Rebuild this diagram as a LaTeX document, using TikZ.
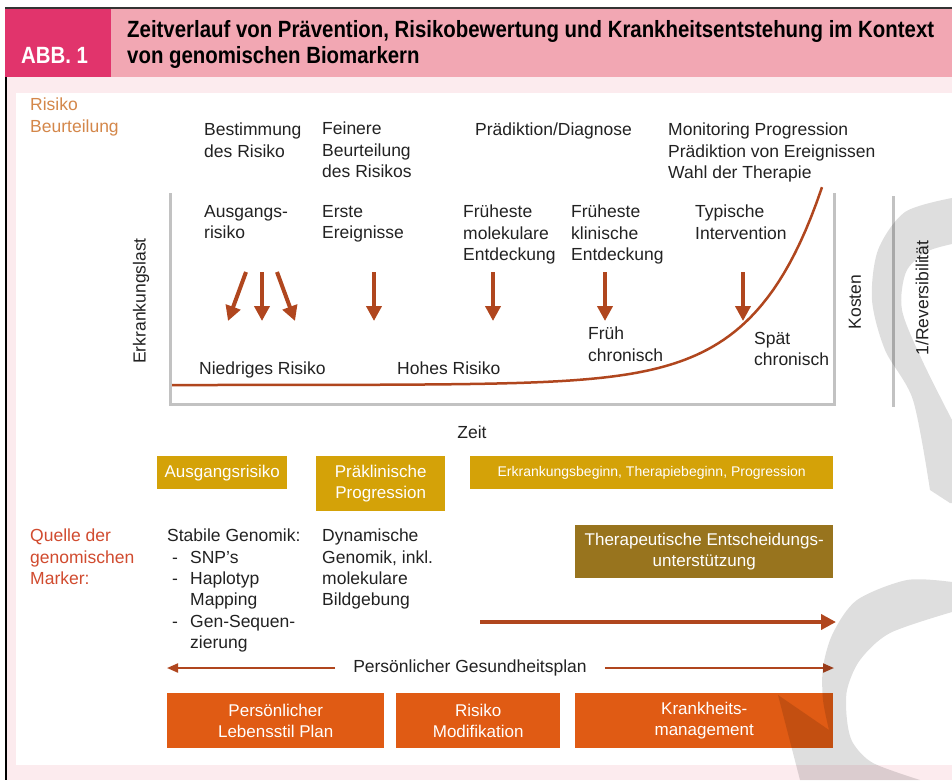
\documentclass[tikz,border=0pt]{standalone}
\usepackage{fontspec}
\setmainfont{Liberation Sans}
\newfontfamily\titelfont[FakeStretch=0.868]{Liberation Sans}
\usetikzlibrary{arrows.meta}

\definecolor{kopfrosa}{HTML}{F2A7B3}
\definecolor{abbrosa}{HTML}{E1346C}
\definecolor{grundrosa}{HTML}{FCEBEE}
\definecolor{braun}{HTML}{B0461E}
\definecolor{ocker}{HTML}{D4A208}
\definecolor{dunkelocker}{HTML}{98741E}
\definecolor{planorange}{HTML}{E05B14}
\definecolor{hellbraun}{HTML}{D4874A}
\definecolor{quellrot}{HTML}{D14B2F}
\definecolor{achse}{HTML}{C2C2C2}
\definecolor{schrift}{HTML}{222222}

\begin{document}
\begin{tikzpicture}[x=1pt, y=-1pt,
  txt/.style={anchor=north west, inner sep=0pt, align=left, text=schrift, font=\fontsize{17.5}{21.3}\selectfont},
  senkrecht/.style={rotate=90, inner sep=0pt, text=schrift, font=\fontsize{17.5}{21}\selectfont},
  kasten/.style={anchor=north west, inner sep=0pt, align=center, text=white, font=\fontsize{17}{21}\selectfont},
  pfeil/.style={draw=braun, line width=4pt, -{Triangle[width=15pt,length=15pt]}},
  duenn/.style={draw=braun, line width=2pt, -{Triangle[width=9pt,length=11pt]}},
  wasser/.style={fill=black, opacity=0.13}]

\useasboundingbox (0,0) rectangle (952,780);

%Hintergrund und Kopfzeile
\fill[white] (0,0) rectangle (952,780);
\fill[grundrosa] (5,77) rectangle (952,780);
\fill[white] (16,93) rectangle (952,765);
\fill[kopfrosa] (5,9) rectangle (952,77);
\fill[abbrosa] (5,9) rectangle (111,77);
\draw[black!80, line width=2pt] (5,8) -- (952,8);
\draw[black, line width=1.5pt] (5.75,77) -- (5.75,780);
\node[anchor=base west, inner sep=0pt, text=white, font=\titelfont\bfseries\fontsize{23.5}{26}\selectfont] (abb) at (21,63) {ABB. 1};
\node[anchor=north west, inner sep=0pt, align=left, text=black, font=\titelfont\bfseries\fontsize{23.5}{26}\selectfont] (titel) at (127,20)
  {Zeitverlauf von Prävention, Risikobewertung und Krankheitsentstehung im Kontext\\von genomischen Biomarkern};

%Diagramm
\draw[achse, line width=3pt] (170,193) -- (170,404) -- (834,404) -- (834,193);
\draw[achse, line width=3pt] (893,196) -- (893,407);
\draw[braun, line width=2.5pt] plot[domain=172:822, samples=120] (\x, {385-192*exp(0.015*(\x-820))});

\node[txt, text=hellbraun] (risiko) at (30,98) {Risiko\\Beurteilung};
\node[txt] (bestimmung) at (204,123) {Bestimmung\\des Risiko};
\node[txt] (feinere) at (322,122) {Feinere\\Beurteilung\\des Risikos};
\node[txt] (praediktion) at (475,123) {Prädiktion/Diagnose};
\node[txt] (monitoring) at (668,123) {Monitoring Progression\\Prädiktion von Ereignissen\\Wahl der Therapie};

\node[txt] (ausgang) at (204,205) {Ausgangs-\\risiko};
\node[txt] (erste) at (322,205) {Erste\\Ereignisse};
\node[txt] (molekular) at (463,205) {Früheste\\molekulare\\Entdeckung};
\node[txt] (klinisch) at (571,205) {Früheste\\klinische\\Entdeckung};
\node[txt] (typisch) at (695,205) {Typische\\Intervention};

\foreach \xa/\xb [count=\i] in {246/228, 262/262, 277/295, 374/374, 493/493, 605/605, 743/743} {
  \coordinate (von\i) at (\xa,272);
  \coordinate (nach\i) at (\xb,321);
  \draw[pfeil] (von\i) -- (nach\i);
}

\node[txt] (niedrig) at (199,362) {Niedriges Risiko};
\node[txt] (hoch) at (397,362) {Hohes Risiko};
\node[txt] (frueh) at (588,327) {Früh\\chronisch};
\node[txt] (spaet) at (754,332) {Spät\\chronisch};

\node[senkrecht] (last) at (141,301) {Erkrankungslast};
\node[senkrecht] (kosten) at (855,302) {Kosten};
\node[senkrecht] (revers) at (922,298) {1/Reversibilität};
\node[inner sep=0pt, text=schrift, font=\fontsize{17.5}{21}\selectfont] (zeit) at (472,432) {Zeit};

%Phasen
\node[kasten, fill=ocker, minimum width=130pt, minimum height=33pt] (k_ausgang) at (157,456) {Ausgangsrisiko};
\node[kasten, fill=ocker, minimum width=129pt, minimum height=55pt] (k_praeklin) at (316,456) {Präklinische\\Progression};
\node[kasten, fill=ocker, minimum width=363pt, minimum height=33pt, font=\fontsize{14}{17}\selectfont] (k_beginn) at (470,456) {Erkrankungsbeginn, Therapiebeginn, Progression};

%Marker
\node[txt, text=quellrot] (quelle) at (30,529) {Quelle der\\genomischen\\Marker:};
\node[txt] (stabil) at (167,529) {Stabile Genomik:\\
  \makebox[23pt][l]{\hspace{5pt}-}SNP's\\
  \makebox[23pt][l]{\hspace{5pt}-}Haplotyp\\
  \makebox[23pt][l]{}Mapping\\
  \makebox[23pt][l]{\hspace{5pt}-}Gen-Sequen-\\
  \makebox[23pt][l]{}zierung};
\node[txt] (dynamisch) at (322,529) {Dynamische\\Genomik, inkl.\\molekulare\\Bildgebung};
\node[kasten, fill=dunkelocker, minimum width=258pt, minimum height=53pt] (k_therapie) at (575,525) {Therapeutische Entscheidungs-\\unterstützung};

\coordinate (start) at (480,622);
\coordinate (ende) at (836,622);
\draw[pfeil, line width=4pt] (start) -- (ende);

%Gesundheitsplan
\node[inner sep=0pt, inner xsep=18pt, text=schrift, font=\fontsize{17.5}{21}\selectfont] (plan) at (470,668) {Persönlicher Gesundheitsplan};
\coordinate (links) at (167,668);
\coordinate (rechts) at (834,668);
\draw[duenn] (plan.west) -- (links);
\draw[duenn] (plan.east) -- (rechts);

\node[kasten, fill=planorange, minimum width=217pt, minimum height=55pt] (k_lebensstil) at (167,693) {Persönlicher\\Lebensstil Plan};
\node[kasten, fill=planorange, minimum width=164pt, minimum height=55pt] (k_modifikation) at (396,693) {Risiko\\Modifikation};
\node[kasten, fill=planorange, minimum width=258pt, minimum height=55pt] (k_management) at (575,693) {Krankheits-\\management};

%Wasserzeichen
\fill[wasser] plot[smooth] coordinates {(952,198) (905,212) (878,250) (872,300) (885,350) (913,400) (930,490)}
  -- (950,503) -- (952,503)
  -- plot[smooth] coordinates {(952,420) (922,360) (902,310) (906,272) (926,252) (952,244)} -- cycle;
\fill[wasser] plot[smooth] coordinates {(952,582) (907,580) (857,600) (833,633) (823,667) (823,700) (829,730)}
  -- (778,695) -- (800,780)
  -- plot[smooth] coordinates {(920,780) (873,763) (853,743) (847,720) (847,690) (860,660) (890,633) (952,612)} -- cycle;

\end{tikzpicture}
\end{document}
